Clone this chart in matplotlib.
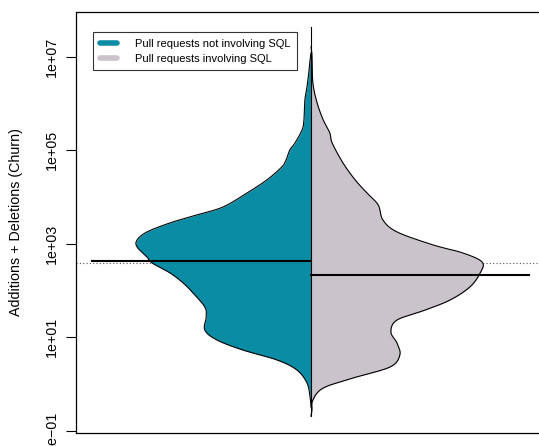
import matplotlib.pyplot as plt
import numpy as np
from matplotlib.lines import Line2D

plt.rcParams["font.family"] = ["Liberation Sans", "DejaVu Sans"]

# log10(churn) levels and half-widths of the bean
left_log = [7.086, 6.936, 6.722, 6.358, 6.079, 5.651, 5.437, 5.158, 5.009, 4.794,
            4.645, 4.366, 4.088, 3.788, 3.617, 3.446, 3.253, 3.081, 2.931, 2.717,
            2.589, 2.375, 2.161, 1.946, 1.647, 1.433, 1.154, 0.940, 0.726, 0.512,
            0.298, 0.019, -0.280, -0.495]
left_dens = [0.0, 0.002, 0.004, 0.0085, 0.013, 0.015, 0.019, 0.034, 0.045, 0.053,
             0.062, 0.094, 0.136, 0.187, 0.243, 0.300, 0.349, 0.370, 0.370, 0.349,
             0.338, 0.300, 0.272, 0.251, 0.226, 0.223, 0.226, 0.200, 0.145, 0.072,
             0.030, 0.0085, 0.002, 0.0]

right_log = [7.214, 7.043, 6.443, 6.015, 5.651, 5.373, 5.158, 4.730, 4.366, 4.088,
             3.831, 3.510, 3.253, 2.974, 2.803, 2.610, 2.375, 2.075, 1.797, 1.582,
             1.368, 1.111, 0.876, 0.619, 0.362, 0.126, -0.088, -0.345, -0.559, -0.687]
right_dens = [0.0, 0.002, 0.004, 0.013, 0.026, 0.040, 0.045, 0.068, 0.094, 0.119,
              0.143, 0.153, 0.183, 0.260, 0.323, 0.364, 0.360, 0.338, 0.296, 0.243,
              0.183, 0.170, 0.183, 0.189, 0.168, 0.089, 0.026, 0.004, 0.002, 0.0]

median_left = 10 ** 2.632
median_right = 10 ** 2.332
overall_mean = 10 ** 2.589
span = (10 ** -0.69, 10 ** 7.64)

labels = ["Pull requests not involving SQL", "Pull requests involving SQL"]
col_no = "#0b8ca5"
col_sql = "#cbc3cb"


def smooth(y, w, n=12):
    # Catmull-Rom through the read points, only to draw a smooth outline
    p = np.column_stack([y, w])
    p = np.vstack([p[0], p, p[-1]])
    out = []
    t = np.linspace(0, 1, n, endpoint=False)[:, None]
    for i in range(1, len(p) - 2):
        p0, p1, p2, p3 = p[i - 1], p[i], p[i + 1], p[i + 2]
        seg = 0.5 * ((2 * p1) + (-p0 + p2) * t + (2 * p0 - 5 * p1 + 4 * p2 - p3) * t ** 2
                     + (-p0 + 3 * p1 - 3 * p2 + p3) * t ** 3)
        out.append(seg)
    out.append(p[-2][None, :])
    out = np.vstack(out)
    return out[:, 0], np.clip(out[:, 1], 0, None)


fig = plt.figure(figsize=(5.39, 4.46), dpi=100)
ax = fig.add_axes([76 / 539, 13 / 446, 470 / 539, 421 / 446])

ax.set_yscale("log")
ax.set_xlim(0.5, 1.5)
ax.set_ylim(10 ** -1.05, 10 ** 7.96)

# overall line
ax.axhline(overall_mean, color="#555555", lw=0.8, ls=(0, (1, 2)), zorder=1)

lv, lw_ = smooth(left_log, left_dens)
rv, rw = smooth(right_log, right_dens)
ly = 10 ** lv
ry = 10 ** rv
ax.fill_betweenx(ly, 1 - lw_, 1, color=col_no, lw=0, zorder=2)
ax.fill_betweenx(ry, 1, 1 + rw, color=col_sql, lw=0, zorder=2)
ax.plot(1 - lw_, ly, color="black", lw=0.8, zorder=3)
ax.plot(1 + rw, ry, color="black", lw=0.8, zorder=3)
ax.plot([1, 1], span, color="black", lw=0.8, zorder=3)

# bean lines (medians)
ax.plot([0.534, 1.0], [median_left] * 2, color="black", lw=1.5, zorder=4)
ax.plot([1.0, 1.464], [median_right] * 2, color="black", lw=1.5, zorder=4)

ax.set_yticks([1e-1, 1e1, 1e3, 1e5, 1e7])
ax.set_yticklabels(["1e\u221201", "1e+01", "1e+03", "1e+05", "1e+07"],
                   rotation=90, va="center", fontsize=10.3)
ax.yaxis.set_minor_locator(plt.NullLocator())
ax.tick_params(axis="y", length=7, width=0.8, pad=5)
ax.set_xticks([])
ax.set_ylabel("Additions + Deletions (Churn)", fontsize=10.3, labelpad=16)
for s in ax.spines.values():
    s.set_linewidth(0.9)

handles = [Line2D([], [], color=col_no, lw=4, solid_capstyle="round"),
           Line2D([], [], color=col_sql, lw=4, solid_capstyle="round")]
leg = ax.legend(handles, labels, loc="upper left", bbox_to_anchor=(0.036, 0.9525),
                borderaxespad=0, fontsize=8, fancybox=False, handlelength=1.6,
                handletextpad=1.6, labelspacing=0.45, borderpad=0.6)
leg.get_frame().set_edgecolor("black")
leg.get_frame().set_linewidth(0.8)

plt.savefig("out.png", dpi=100)
